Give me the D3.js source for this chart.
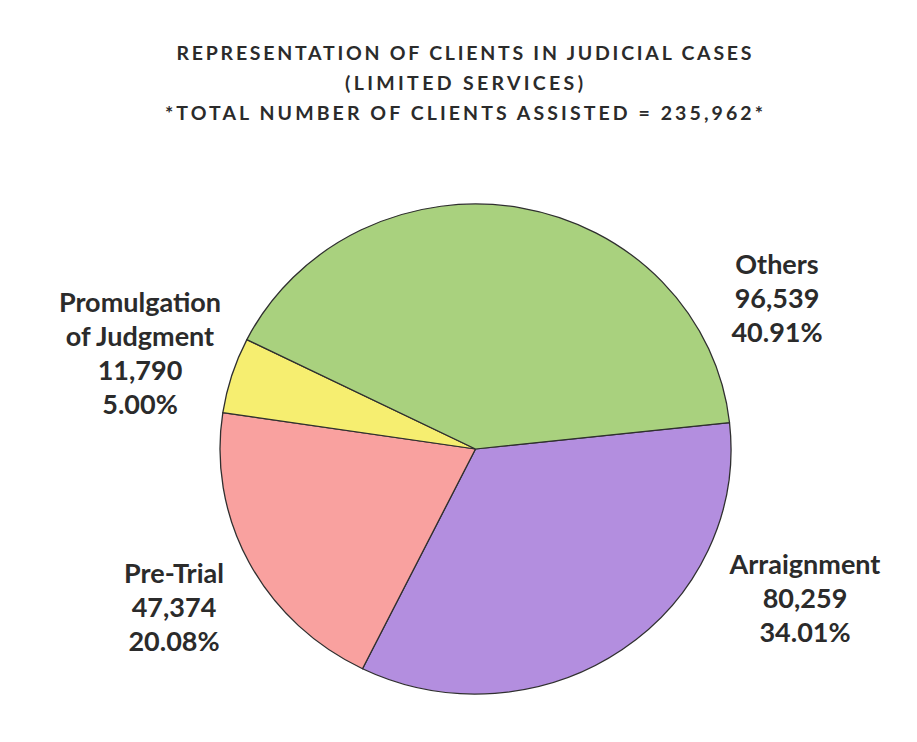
<!DOCTYPE html>
<html>
<head>
<meta charset="utf-8">
<script src="https://cdn.jsdelivr.net/npm/d3@7"></script>
<style>
  html, body { margin: 0; padding: 0; background: #fff; }
  text { font-family: Lato, "Open Sans", sans-serif; font-weight: 700; fill: #2b2b2b; }
</style>
</head>
<body>
<div id="chart"></div>
<script>
// slice order follows the picture, clockwise from the 3 o'clock cut
const categories = ["Arraignment", "Pre-Trial", "Promulgation of Judgment", "Others"];
const clients = [80259, 47374, 11790, 96539];
const sliceColors = ["#b38edf", "#f9a19f", "#f6ee70", "#a9d17e"];
// how each label is broken into lines
const labelLines = [["Arraignment"], ["Pre-Trial"], ["Promulgation", "of Judgment"], ["Others"]];

const width = 917;
const height = 742;
const cx = 475.5;
const cy = 449;
const radius = 255.5;
const squash = 245 / 255.5;   // the scanned pie is a little flatter than round
const startDeg = 83.8;
const lineGap = 34;
// label anchors (centre x, baseline of first line)
const labelPos = [
  {x: 805, y: 574},
  {x: 174, y: 583},
  {x: 140, y: 312},
  {x: 777, y: 274}
];

const total = d3.sum(clients);
const fmtNum = d3.format(",");
const fmtPct = d3.format(".2%");

const svg = d3.select("#chart").append("svg")
    .attr("width", width)
    .attr("height", height)
    .attr("viewBox", "0 0 " + width + " " + height);

// title
const titleLines = [
  {text: "REPRESENTATION OF CLIENTS IN JUDICIAL CASES", y: 60, len: 575},
  {text: "(LIMITED SERVICES)", y: 90, len: 238},
  {text: "*TOTAL NUMBER OF CLIENTS ASSISTED = " + fmtNum(total) + "*", y: 120, len: 598}
];
svg.append("g").selectAll("text")
    .data(titleLines)
    .join("text")
    .attr("x", 464)
    .attr("y", d => d.y)
    .attr("text-anchor", "middle")
    .attr("font-size", 19.5)
    .attr("textLength", d => d.len)
    .attr("lengthAdjust", "spacing")
    .text(d => d.text);

const pie = d3.pie()
    .sort(null)
    .startAngle(startDeg * Math.PI / 180)
    .endAngle(startDeg * Math.PI / 180 + 2 * Math.PI);
const arc = d3.arc().innerRadius(0).outerRadius(radius);

const slices = pie(clients);

svg.append("g")
    .attr("transform", "translate(" + cx + "," + cy + ") scale(1," + squash + ")")
    .selectAll("path")
    .data(slices)
    .join("path")
    .attr("d", arc)
    .attr("fill", (d, i) => sliceColors[i])
    .attr("stroke", "#2f2f2f")
    .attr("stroke-width", 1.3)
    .attr("stroke-linejoin", "round");

// labels: name lines, count, percent
const labels = svg.append("g").selectAll("text")
    .data(slices)
    .join("text")
    .attr("text-anchor", "middle")
    .attr("font-size", 27)
    .attr("x", (d, i) => labelPos[i].x)
    .attr("y", (d, i) => labelPos[i].y);

labels.each(function(d, i) {
  const lines = labelLines[i].concat([fmtNum(d.data), fmtPct(d.data / total)]);
  d3.select(this).selectAll("tspan")
    .data(lines)
    .join("tspan")
    .attr("x", labelPos[i].x)
    .attr("dy", (t, j) => j === 0 ? 0 : lineGap)
    .text(t => t);
});
</script>
</body>
</html>
